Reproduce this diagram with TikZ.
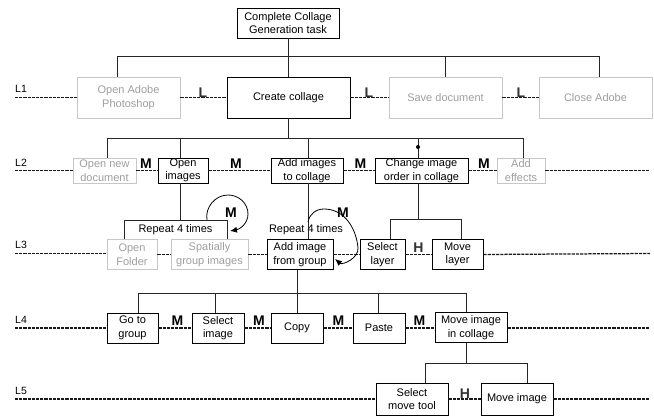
\documentclass[tikz,border=0pt]{standalone}
\usepackage{fontspec}
\setmainfont{Liberation Sans}
\usetikzlibrary{arrows.meta}
\begin{document}
\begin{tikzpicture}[x=1pt,y=-1pt,
 box/.style={draw=black,line width=0.9pt,inner sep=0pt,align=center,font=\fontsize{11}{13.5}\selectfont},
 gbox/.style={box,draw=black!22,text=black!38},
 tree/.style={line width=0.9pt,draw=black!85},
 dl/.style={line width=1.25pt,draw=black!90,dash pattern=on 3.2pt off 1pt},
 lvl/.style={anchor=base west,inner sep=0pt,font=\fontsize{10.5}{12}\selectfont},
 rel/.style={anchor=base,inner sep=0pt,font=\fontsize{14}{15}\selectfont\bfseries},
 grel/.style={rel,text=black!80},
 rtext/.style={inner sep=0pt,font=\fontsize{11}{13.5}\selectfont},
 loop/.style={line width=0.8pt,draw=black,-{Latex[length=7pt,width=6pt]}},
]
\useasboundingbox (0,0) rectangle (654,418);

% ---------- root ----------
\node[box,minimum width=102pt,minimum height=30pt] (root) at (288,23) {Complete Collage\\Generation task};

% ---------- L1 ----------
\node[lvl] (lab1) at (15,92) {L1};
\node[gbox,minimum width=103pt,minimum height=41pt] (oa) at (128.5,97.5) {Open Adobe\\Photoshop};
\node[box,minimum width=123pt,minimum height=41pt] (cc) at (288.5,97.5) {Create collage};
\node[gbox,minimum width=113pt,minimum height=41pt] (sd) at (445.5,97.5) {Save document};
\node[gbox,minimum width=113pt,minimum height=41pt] (ca) at (595.5,97.5) {Close Adobe};
\coordinate (s1) at (15,97.5);
\draw[dl] (s1) -- (oa.west);
\draw[dl] (oa.east) -- (cc.west);
\draw[dl] (cc.east) -- (sd.west);
\draw[dl] (sd.east) -- (ca.west);
\node[grel] (r11) at (203,97) {L};
\node[grel] (r12) at (369,97) {L};
\node[grel] (r13) at (521,97) {L};

\coordinate (b1) at (0,56);
\coordinate (doa) at ([xshift=-11.5pt]oa.north);
\coordinate (dcc) at ([xshift=-0.5pt]cc.north);
\coordinate (dsd) at (sd.north);
\coordinate (dca) at ([xshift=3.5pt]ca.north);
\draw[tree] (root.south) -- (root.south |- b1);
\draw[tree] (doa |- b1) -- (dca |- b1);
\foreach \d in {doa,dcc,dsd,dca} \draw[tree] (\d) -- (\d |- b1);

% ---------- L2 ----------
\node[lvl] (lab2) at (15,166) {L2};
\node[gbox,minimum width=63pt,minimum height=25pt] (ond) at (104.5,170.5) {Open new\\document};
\node[box,minimum width=50pt,minimum height=25pt] (oi) at (183,170.5) {Open\\images};
\node[box,minimum width=72pt,minimum height=25pt] (ai) at (307,170.5) {Add images\\to collage};
\node[box,minimum width=93pt,minimum height=25pt] (ch) at (421.5,170.5) {Change image\\order in collage};
\node[gbox,minimum width=48pt,minimum height=25pt] (ae) at (521,170.5) {Add\\effects};
\coordinate (s2) at (15,170.5);
\coordinate (e2) at (650,170.5);
\draw[dl] (s2) -- (ond.west);
\draw[dl] (ond.east) -- (oi.west);
\draw[dl] (oi.east) -- (ai.west);
\draw[dl] (ai.east) -- (ch.west);
\draw[dl] (ch.east) -- (ae.west);
\draw[dl] (ae.east) -- (e2);
\node[rel] (r21) at (146,168) {M};
\node[rel] (r22) at (236,168) {M};
\node[rel] (r23) at (360.5,168) {M};
\node[rel] (r24) at (484,168) {M};

\coordinate (b2) at (0,138);
\coordinate (dond) at ([xshift=2.5pt]ond.north);
\coordinate (doi) at ([xshift=-3pt]oi.north);
\coordinate (dai) at ([xshift=1pt]ai.north);
\coordinate (dch) at ([xshift=-3.5pt]ch.north);
\coordinate (dae) at ([xshift=2pt]ae.north);
\draw[tree] (dcc |- cc.south) -- (dcc |- b2);
\draw[tree] (dond |- b2) -- (dae |- b2);
\foreach \d in {dond,doi,dai,dch,dae} \draw[tree] (\d) -- (\d |- b2);
\coordinate (dot) at (418,147);
\fill[black] (dot) circle (2pt);

% ---------- L3 ----------
\node[lvl] (lab3) at (15,248) {L3};
\node[gbox,minimum width=50pt,minimum height=30pt] (of) at (132,254.5) {Open\\Folder};
\node[gbox,minimum width=77pt,minimum height=30pt] (sg) at (209.5,254.5) {Spatially\\group images};
\node[box,minimum width=66pt,minimum height=30pt] (ag) at (300,254.5) {Add image\\from group};
\node[box,minimum width=45pt,minimum height=30pt] (sl) at (382.5,254.5) {Select\\layer};
\node[box,minimum width=51pt,minimum height=30pt] (ml) at (457.5,254.5) {Move\\layer};
\coordinate (s3) at (15,253.5);
\coordinate (e3) at (650,253.5);
\draw[dl] (s3) -- (s3 -| of.west);
\draw[dl] (of.east) -- (sg.west);
\draw[dl] (sg.east) -- (ag.west);
\draw[dl] (ag.east) -- (sl.west);
\draw[dl] (sl.east) -- (ml.west);
\draw[dl] (ml.east) -- (e3);
\node[grel] (r31) at (418.5,252) {H};

% repeat bracket under "Open images"
\coordinate (brL) at (124,220);
\coordinate (brR) at (227,220);
\draw[tree] (doi |- oi.south) -- (doi |- brL);
\draw[tree] (brL |- of.north) -- (brL) -- (brR) -- (brR |- sg.north);
\node[rtext] (rep1) at (175.5,229.5) {Repeat 4 times};
\node[rtext] (rep2) at (306,229.5) {Repeat 4 times};
\draw[tree] (dai |- ai.south) -- (dai |- ag.north);

% loops
\coordinate (a1s) at (207,220);
\coordinate (a1e) at (230,231);
\draw[loop] (a1s) to[out=100,in=180] (228,195) to[out=0,in=90] (248,214) to[out=-90,in=10] (a1e);
\node[rel] (m1) at (231,217) {M};
\coordinate (a2s) at (308,222);
\coordinate (a2e) at (335,259);
\draw[loop] (a2s) to[out=80,in=180] (324,209) to[out=0,in=95] (358,248) to[out=-85,in=-40] (a2e);
\node[rel] (m2) at (343,217) {M};

% tree under "Change image order"
\coordinate (b3) at (0,219);
\coordinate (dsl) at ([xshift=7.5pt]sl.north);
\coordinate (dml) at ([xshift=3.5pt]ml.north);
\draw[tree] (dch |- ch.south) -- (dch |- b3);
\draw[tree] (dsl |- b3) -- (dml |- b3);
\foreach \d in {dsl,dml} \draw[tree] (\d) -- (\d |- b3);

% ---------- L4 ----------
\node[lvl] (lab4) at (15,323) {L4};
\node[box,minimum width=51pt,minimum height=30pt] (gg) at (132.5,328) {Go to\\group};
\node[box,minimum width=52pt,minimum height=30pt] (si) at (218,328) {Select\\image};
\node[box,minimum width=52pt,minimum height=30pt] (cp) at (297,328) {Copy};
\node[box,minimum width=52pt,minimum height=30pt] (pa) at (379,328) {Paste};
\node[box,minimum width=72pt,minimum height=30pt] (mc) at (471,327.5) {Move image\\in collage};
\coordinate (s4) at (15,328);
\coordinate (e4) at (650,328);
\draw[dl] (s4) -- (gg.west);
\draw[dl] (gg.east) -- (si.west);
\draw[dl] (si.east) -- (cp.west);
\draw[dl] (cp.east) -- (pa.west);
\draw[dl] (pa.east) -- (pa.east -| mc.west);
\draw[dl] (pa.east -| mc.east) -- (e4);
\node[rel] (r41) at (177.5,325) {M};
\node[rel] (r42) at (259,325) {M};
\node[rel] (r43) at (338.5,325) {M};
\node[rel] (r44) at (419.5,325) {M};

\coordinate (b4) at (0,293);
\coordinate (dag) at ([xshift=-3pt]ag.south);
\coordinate (dgg) at ([xshift=5.5pt]gg.north);
\coordinate (dsi) at ([xshift=-3pt]si.north);
\coordinate (dcp) at (cp.north);
\coordinate (dpa) at ([xshift=-1pt]pa.north);
\coordinate (dmc) at ([xshift=-5pt]mc.north);
\draw[tree] (dag) -- (dag |- b4);
\draw[tree] (dgg |- b4) -- (dmc |- b4);
\foreach \d in {dgg,dsi,dcp,dpa,dmc} \draw[tree] (\d) -- (\d |- b4);

% ---------- L5 ----------
\node[lvl] (lab5) at (15,394) {L5};
\node[box,minimum width=72pt,minimum height=32pt] (smt) at (412,399) {Select\\move tool};
\node[box,minimum width=72pt,minimum height=32pt] (mi) at (517,399) {Move image};
\coordinate (s5) at (15,399);
\coordinate (e5) at (650,399);
\draw[dl] (s5) -- (smt.west);
\draw[dl] (smt.east) -- (mi.west);
\draw[dl] (mi.east) -- (e5);
\node[grel] (r51) at (465,398) {H};

\coordinate (b5) at (0,363);
\coordinate (dsmt) at ([xshift=13pt]smt.north);
\coordinate (dmi) at ([xshift=10pt]mi.north);
\draw[tree] (dmc |- mc.south) -- (dmc |- b5);
\draw[tree] (dsmt |- b5) -- (dmi |- b5);
\foreach \d in {dsmt,dmi} \draw[tree] (\d) -- (\d |- b5);
\end{tikzpicture}
\end{document}
